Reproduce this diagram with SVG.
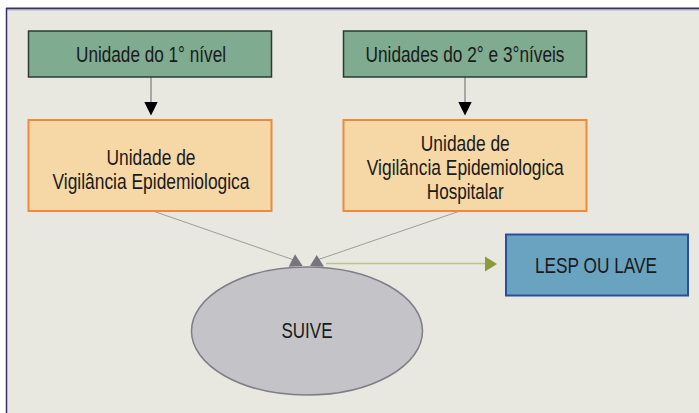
<svg xmlns="http://www.w3.org/2000/svg" width="699" height="413" viewBox="0 0 699 413">
<style>
text{font-family:"Liberation Sans Narrow","Liberation Sans",Arial,sans-serif;font-size:22px;fill:#1a1a1a;text-anchor:middle}
.g{fill:#7fab90;stroke:#2c3a32;stroke-width:1.5}
.o{fill:#f5d8a6;stroke:#ee8a3c;stroke-width:2}
.b{fill:#6aa3bf;stroke:#2b4ea0;stroke-width:2}
.e{fill:#c4c4c8;stroke:#7e7e86;stroke-width:1.5}
.ln{stroke:#666;stroke-width:1;fill:none}
.gl{stroke:#9c9c9c;stroke-width:1;fill:none}
</style>
<rect x="0" y="0" width="699" height="413" fill="#ffffff"/>
<rect x="6" y="8" width="700" height="410" fill="#e8e8e0"/>
<line x1="6" y1="8.5" x2="699" y2="8.5" stroke="#3a2f6e" stroke-width="2"/>
<line x1="6" y1="10" x2="699" y2="10" stroke="#b8b8c0" stroke-width="1"/>
<line x1="6.5" y1="8" x2="6.5" y2="413" stroke="#3a2f6e" stroke-width="1.5"/>
<g id="connectors">
<line class="ln" x1="151" y1="77" x2="151" y2="102"/>
<polygon points="144.3,102 157.7,102 151,115.5" fill="#000"/>
<line class="ln" x1="465" y1="77" x2="465" y2="102"/>
<polygon points="458.3,102 471.7,102 465,115.5" fill="#000"/>
<line class="gl" x1="153" y1="211" x2="294" y2="260"/>
<polygon points="295,254.3 288.7,266.7 302.7,266" fill="#76767c"/>
<line class="gl" x1="460" y1="211" x2="317" y2="260"/>
<polygon points="316.7,255 310,266 324,266.7" fill="#76767c"/>
<line x1="326" y1="263.5" x2="486" y2="263.5" stroke="#b7c58c" stroke-width="1.5"/>
<polygon points="485,256.5 497,264 485,271.5" fill="#8c9a3c"/>
</g>
<g id="n1">
<rect class="g" x="28.5" y="31" width="243" height="46"/>
<text x="151" y="61.5" textLength="150" lengthAdjust="spacingAndGlyphs">Unidade do 1° nível</text>
</g>
<g id="n2">
<rect class="g" x="343.5" y="31" width="243" height="46"/>
<text x="465" y="61.5" textLength="199" lengthAdjust="spacingAndGlyphs">Unidades do 2° e 3°níveis</text>
</g>
<g id="n3">
<rect class="o" x="28.5" y="120" width="243" height="91"/>
<text x="151" y="165" textLength="89" lengthAdjust="spacingAndGlyphs">Unidade de</text>
<text x="151" y="188.5" textLength="197" lengthAdjust="spacingAndGlyphs">Vigilância Epidemiologica</text>
</g>
<g id="n4">
<rect class="o" x="343.5" y="120" width="243" height="91"/>
<text x="465.3" y="150.7" textLength="89" lengthAdjust="spacingAndGlyphs">Unidade de</text>
<text x="465.3" y="174.7" textLength="197" lengthAdjust="spacingAndGlyphs">Vigilância Epidemiologica</text>
<text x="465.3" y="198.5" textLength="77" lengthAdjust="spacingAndGlyphs">Hospitalar</text>
</g>
<g id="n5">
<ellipse class="e" cx="307" cy="331" rx="115.5" ry="64"/>
<text x="307" y="338.3" textLength="51" lengthAdjust="spacingAndGlyphs">SUIVE</text>
</g>
<g id="n6">
<rect class="b" x="506" y="234.5" width="182" height="61"/>
<text x="596" y="272.5" textLength="122" lengthAdjust="spacingAndGlyphs">LESP OU LAVE</text>
</g>
</svg>
